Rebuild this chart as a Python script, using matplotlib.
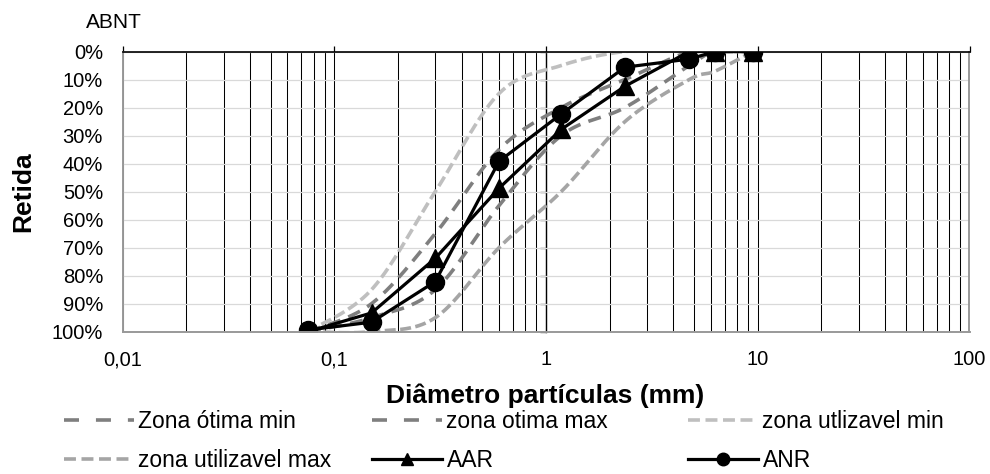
import numpy as np
import matplotlib
matplotlib.use("Agg")
import matplotlib.pyplot as plt
from matplotlib.lines import Line2D

plt.rcParams.update({
    "font.family": "Liberation Sans",
    "lines.scale_dashes": False,
})

# ─── data ─────────────────────────────────────────────────────────────────────
sieves    = [0.075, 0.15, 0.3, 0.6, 1.18, 2.36, 4.75, 6.3, 9.5]
otima_min = [100, 90, 65, 35, 20, 10, 0, 0, 0]
otima_max = [100, 95, 85, 55, 30, 20, 5, 0, 0]
util_min  = [100, 85, 50, 15, 5, 0, 0, 0, 0]
util_max  = [100, 100, 95, 70, 50, 25, 10, 7, 0]
aar       = [100, 93.3, 73.8, 48.8, 27.8, 12.4, 0, 0, 0]
anr       = [99.4, 96.6, 82.1, 39.2, 22.3, 5.6, 2.7, 0, 0]

x_ticks       = [0.01, 0.1, 1, 10, 100]
x_tick_labels = ["0,01", "0,1", "1", "10", "100"]
y_ticks       = list(range(0, 101, 10))
y_tick_labels = [f"{v}%" for v in y_ticks]

labels = ["Zona ótima min", "zona otima max", "zona utlizavel min",
          "zona utilizavel max", "AAR", "ANR"]

C_OTIMA = "#7F7F7F"
C_UMIN  = "#BFBFBF"
C_UMAX  = "#A5A5A5"
DASH_OTIMA = (0, (9.4, 6.1))
DASH_UTIL  = (0, (7.9, 3.2))


def smooth(xs, ys, n=40):
    # Excel "smoothed line": Catmull-Rom style bezier, done in log-x space
    P = np.column_stack([np.log10(xs), np.asarray(ys, float)])
    P = np.vstack([P[0], P, P[-1]])
    t = np.linspace(0, 1, n)[:, None]
    segs = []
    for i in range(1, len(P) - 2):
        p0, p1, p2, p3 = P[i - 1], P[i], P[i + 1], P[i + 2]
        c1 = p1 + (p2 - p0) / 6
        c2 = p2 - (p3 - p1) / 6
        segs.append((1 - t) ** 3 * p1 + 3 * (1 - t) ** 2 * t * c1
                    + 3 * (1 - t) * t ** 2 * c2 + t ** 3 * p2)
    pts = np.vstack(segs)
    return 10 ** pts[:, 0], pts[:, 1]


W, H = 990, 474
fig = plt.figure(figsize=(W / 100, H / 100), dpi=100)
ax = fig.add_axes([122.5 / W, 1 - 331.7 / H, 847 / W, 280.2 / H])
ax.set_xscale("log")
ax.set_xlim(0.01, 100)
ax.set_ylim(100, 0)

# grid
ax.set_xticks(x_ticks)
ax.set_xticklabels(x_tick_labels)
ax.xaxis.set_minor_locator(matplotlib.ticker.LogLocator(base=10, subs=range(2, 10)))
ax.xaxis.set_minor_formatter(matplotlib.ticker.NullFormatter())
ax.set_yticks(y_ticks)
ax.set_yticklabels(y_tick_labels)
ax.grid(axis="x", which="both", color="black", lw=0.75)
ax.grid(axis="y", which="major", color="#D9D9D9", lw=0.9)
ax.set_axisbelow(True)

ax.tick_params(axis="x", which="major", bottom=False, top=True, direction="out",
               length=4.5, width=0.9, labelbottom=True, labelsize=14.5, pad=9)
ax.tick_params(axis="x", which="minor", bottom=False, top=False)
ax.tick_params(axis="y", left=False, right=False, length=0, labelsize=14.5, pad=14)

for s in ("left", "right", "bottom"):
    ax.spines[s].set_color("#999999")
    ax.spines[s].set_linewidth(1.4)
ax.spines["top"].set_color("black")
ax.spines["top"].set_linewidth(1.2)

# vertical axis crosses at x = 1
sec = ax.secondary_yaxis(0.5)
sec.set_alignment("left")
sec.set_yticks(y_ticks)
sec.set_yticklabels([])
sec.tick_params(direction="out", length=4.5, width=0.9, color="black")
sec.spines["left"].set_color("black")
sec.spines["left"].set_linewidth(1.0)

# series
x, y = smooth(sieves, otima_min)
ax.plot(x, y, color=C_OTIMA, lw=2.6, linestyle=DASH_OTIMA)
x, y = smooth(sieves, otima_max)
ax.plot(x, y, color=C_OTIMA, lw=2.6, linestyle=DASH_OTIMA)
x, y = smooth(sieves, util_min)
ax.plot(x, y, color=C_UMIN, lw=2.6, linestyle=DASH_UTIL)
x, y = smooth(sieves, util_max)
ax.plot(x, y, color=C_UMAX, lw=2.6, linestyle=DASH_UTIL)
ax.plot(sieves, aar, "-^", color="black", lw=2.3, markersize=13)
ax.plot(sieves, anr, "-o", color="black", lw=2.3, markersize=13)

# texts
fig.text(86 / W, 1 - 22 / H, "ABNT", fontsize=15, ha="left", va="center")
fig.text(545 / W, 1 - 403 / H, "Diâmetro partículas (mm)", fontsize=19,
         fontweight="bold", ha="center", va="baseline")
fig.text(23 / W, 1 - 192 / H, "Retida", fontsize=19, fontweight="bold",
         rotation=90, ha="center", va="center")

# legend, three columns like Excel's
h_om = Line2D([], [], color=C_OTIMA, lw=2.6, linestyle=(0, (10.8, 12.2)))
h_umin = Line2D([], [], color=C_UMIN, lw=2.6, linestyle=(0, (8.6, 4.0)))
h_umax = Line2D([], [], color=C_UMAX, lw=2.6, linestyle=(0, (8.6, 4.0)))
h_aar = Line2D([], [], color="black", lw=2.3, marker="^", markersize=9)
h_anr = Line2D([], [], color="black", lw=2.3, marker="o", markersize=9)

columns = [
    ([h_om, h_umax], [labels[0], labels[3]], 64),
    ([h_om, h_aar], [labels[1], labels[4]], 372),
    ([h_umin, h_anr], [labels[2], labels[5]], 688),
]
for hs, ls, xpx in columns:
    fig.legend(hs, ls, loc="upper left", bbox_to_anchor=(xpx / W, 1 - 410 / H),
               frameon=False, fontsize=16.5, handlelength=3.05, handletextpad=0.2,
               labelspacing=0.68, borderpad=0, borderaxespad=0)

fig.savefig("out.png", dpi=100)
